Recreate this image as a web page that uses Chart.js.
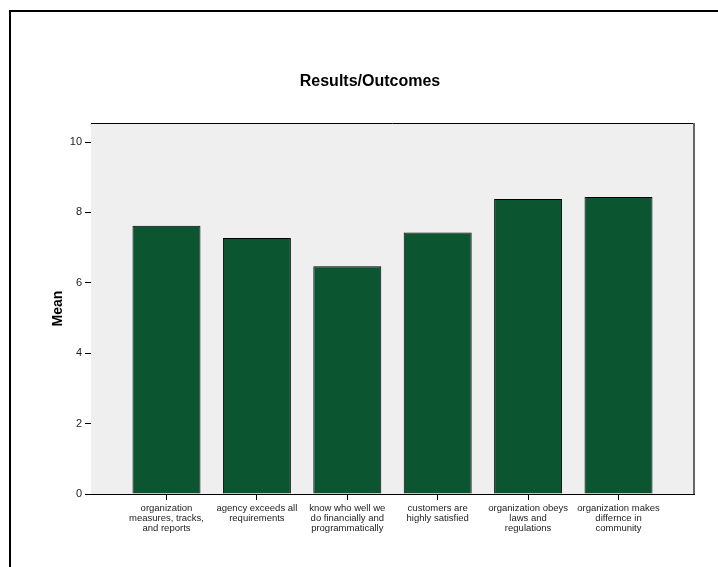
<!DOCTYPE html>
<html>
<head>
<meta charset="utf-8">
<script src="https://cdn.jsdelivr.net/npm/chart.js@4"></script>
<style>
  html, body { margin: 0; padding: 0; background: #fff; }
  canvas { display: block; }
</style>
</head>
<body>
<canvas id="meanChart" width="718" height="567"></canvas>
<script>
// Chart data
const categories = [
    ['organization', 'measures, tracks,', 'and reports'],
    ['agency exceeds all', 'requirements'],
    ['know who well we', 'do financially and', 'programmatically'],
    ['customers are', 'highly satisfied'],
    ['organization obeys', 'laws and', 'regulations'],
    ['organization makes', 'differnce in', 'community']
];
const means = [7.62, 7.27, 6.47, 7.43, 8.38, 8.44];
const yTicks = [0, 2, 4, 6, 8, 10];

const FONT = 'Arial, "Liberation Sans", Helvetica, sans-serif';

// gray plot background, plot frame, outer frame and title
const frame = {
    id: 'frame',
    beforeDatasetsDraw(chart) {
        const { ctx, chartArea: a } = chart;
        ctx.save();
        ctx.fillStyle = '#efefef';
        ctx.fillRect(a.left, a.top, a.right - a.left, a.bottom - a.top);
        ctx.restore();
    },
    afterDraw(chart) {
        const { ctx, chartArea: a } = chart;
        ctx.save();
        ctx.strokeStyle = '#000';
        ctx.lineWidth = 1;
        ctx.beginPath();
        ctx.moveTo(a.left, a.top + 0.5);
        ctx.lineTo(a.right, a.top + 0.5);
        ctx.stroke();
        ctx.strokeStyle = '#666';
        ctx.lineWidth = 2;
        ctx.beginPath();
        ctx.moveTo(a.right, a.top);
        ctx.lineTo(a.right, a.bottom);
        ctx.stroke();
        // outer frame (left and top edges only are inside the picture)
        ctx.fillStyle = '#000';
        ctx.fillRect(9, 10, 2, 557);
        ctx.fillRect(9, 10, 709, 2);
        // title
        ctx.fillStyle = '#000';
        ctx.font = 'bold 16px ' + FONT;
        ctx.textAlign = 'center';
        ctx.textBaseline = 'alphabetic';
        ctx.fillText('Results/Outcomes', 370, 86);
        ctx.restore();
    }
};

const ctx = document.getElementById('meanChart').getContext('2d');
new Chart(ctx, {
    type: 'bar',
    data: {
        datasets: [{
            label: 'Mean',
            data: means.map((v, i) => ({ x: i, y: v })),
            backgroundColor: '#0b5530',
            borderColor: '#000',
            borderWidth: 1,
            categoryPercentage: 1,
            barPercentage: 0.752
        }]
    },
    options: {
        responsive: false,
        animation: false,
        layout: { padding: { top: 123, right: 24, left: 0, bottom: 0 } },
        plugins: {
            legend: { display: false },
            tooltip: { enabled: false }
        },
        scales: {
            x: {
                type: 'linear',
                offset: false,
                min: -0.835,
                max: categories.length - 1 + 0.835,
                afterFit(s) { s.height = 73; },
                afterBuildTicks(s) { s.ticks = categories.map((_, i) => ({ value: i })); },
                grid: { offset: false, drawOnChartArea: false, drawTicks: true, tickLength: 6, color: '#000' },
                border: { display: true, color: '#000', width: 1 },
                ticks: {
                    autoSkip: false,
                    maxRotation: 0,
                    padding: 3,
                    color: '#222',
                    font: { family: FONT, size: 9.5, lineHeight: 1.06 },
                    callback: (v) => categories[v]
                }
            },
            y: {
                min: 0,
                max: 10.54,
                afterFit(s) { s.width = 91; },
                afterBuildTicks(s) { s.ticks = yTicks.map(v => ({ value: v })); },
                grid: { drawOnChartArea: false, drawTicks: true, tickLength: 6, color: '#000' },
                border: { display: true, color: '#000', width: 1 },
                ticks: {
                    padding: 3,
                    color: '#222',
                    font: { family: FONT, size: 11 }
                },
                title: {
                    display: true,
                    text: 'Mean',
                    color: '#000',
                    font: { family: FONT, size: 14, weight: 'bold' },
                    padding: { top: 50, bottom: 0 }
                }
            }
        }
    },
    plugins: [frame]
});
</script>
</body>
</html>
